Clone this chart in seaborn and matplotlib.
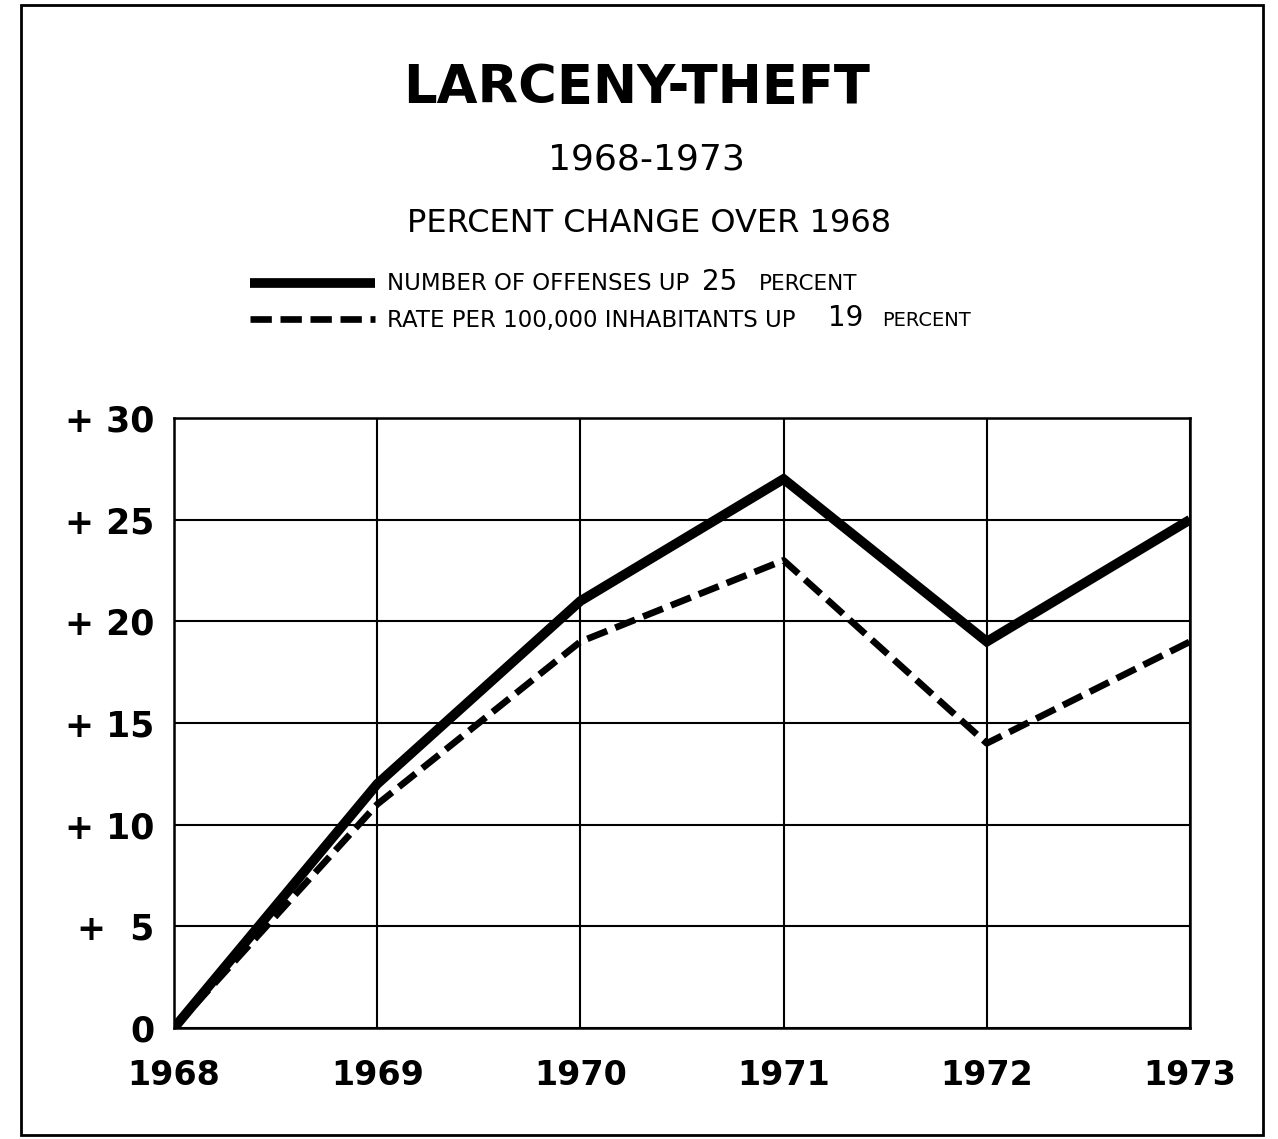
import matplotlib
matplotlib.use("Agg")
import matplotlib.pyplot as plt
import seaborn as sns
import pandas as pd
from matplotlib.patches import Rectangle
from matplotlib.lines import Line2D

years = [1968, 1969, 1970, 1971, 1972, 1973]
offenses = [0, 12, 21, 27, 19, 25]
rate = [0, 11, 19, 23, 14, 19]
ytick_vals = [0, 5, 10, 15, 20, 25, 30]
ytick_labels = ["0", "+  5", "+ 10", "+ 15", "+ 20", "+ 25", "+ 30"]

sns.set_theme(style="white")
plt.rcParams['font.family'] = ['DejaVu Sans']
plt.rcParams['text.color'] = 'black'
plt.rcParams['xtick.color'] = 'black'
plt.rcParams['ytick.color'] = 'black'

W, H = 1278, 1139
fig = plt.figure(figsize=(W / 100, H / 100), dpi=100)
ax = fig.add_axes([174 / W, 1 - 1028 / H, (1190 - 174) / W, (1028 - 418) / H])

df1 = pd.DataFrame({"year": years, "value": offenses})
df2 = pd.DataFrame({"year": years, "value": rate})
sns.lineplot(data=df1, x="year", y="value", ax=ax, color="black", linewidth=7,
             solid_joinstyle="miter", solid_capstyle="butt", zorder=5)
sns.lineplot(data=df2, x="year", y="value", ax=ax, color="black", linewidth=4.8,
             zorder=4)
ax.lines[-1].set_dashes([3.2, 1.3])

ax.set_xlim(1968, 1973)
ax.set_ylim(0, 30)
ax.set_xticks(years)
ax.set_yticks(ytick_vals)
ax.set_yticklabels(ytick_labels, fontsize=25, fontweight="bold")
ax.set_xticklabels([str(y) for y in years], fontsize=24, fontweight="bold")
ax.tick_params(axis="both", length=0)
ax.tick_params(axis="y", pad=14)
ax.tick_params(axis="x", pad=22)
ax.grid(True, color="black", linewidth=1.5)
for s in ax.spines.values():
    s.set_color("black")
    s.set_linewidth(1.8)
ax.set_xlabel("")
ax.set_ylabel("")

# Titles
fig.text(637 / W, 1 - 88 / H, "LARCENY-THEFT", ha="center", va="center",
         fontsize=38, fontweight="bold")
fig.text(646 / W, 1 - 159 / H, "1968-1973", ha="center", va="center", fontsize=26)
fig.text(649 / W, 1 - 224 / H, "PERCENT CHANGE OVER 1968", ha="center", va="center",
         fontsize=23)

# Legend
fig.add_artist(Line2D([250 / W, 375 / W], [1 - 283 / H, 1 - 283 / H], color="black",
                      linewidth=7, solid_capstyle="butt"))
l2 = Line2D([250 / W, 375 / W], [1 - 319 / H, 1 - 319 / H], color="black", linewidth=4.8,
            dash_capstyle="butt")
l2.set_dashes([3.2, 1.3])
fig.add_artist(l2)
fs = 16.5
fig.text(387 / W, 1 - 284 / H, "NUMBER OF OFFENSES UP", ha="left", va="center", fontsize=fs)
fig.text(702 / W, 1 - 282 / H, "25", ha="left", va="center", fontsize=20)
fig.text(759 / W, 1 - 284 / H, "PERCENT", ha="left", va="center", fontsize=15.5)
fig.text(387 / W, 1 - 320 / H, "RATE PER 100,000 INHABITANTS UP", ha="left", va="center", fontsize=fs)
fig.text(828 / W, 1 - 318 / H, "19", ha="left", va="center", fontsize=20)
fig.text(882 / W, 1 - 320 / H, "PERCENT", ha="left", va="center", fontsize=14)

# Outer frame
fig.add_artist(Rectangle((21 / W, 1 - 1135 / H), (1263 - 21) / W, (1135 - 5) / H,
                         transform=fig.transFigure, fill=False, edgecolor="black",
                         linewidth=2))

fig.savefig("out.png", dpi=100, facecolor="white")
